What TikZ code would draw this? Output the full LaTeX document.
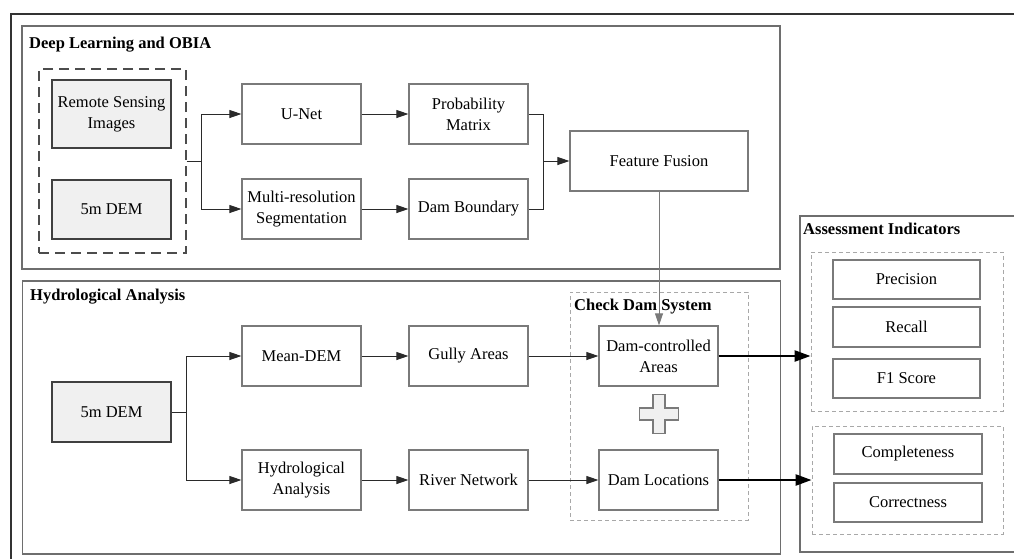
\documentclass[tikz,border=0pt]{standalone}
\usepackage{fontspec}
\setmainfont{Liberation Serif}
\newfontfamily\labelserif{Liberation Serif}
\usetikzlibrary{arrows.meta,calc}
\definecolor{boxline}{HTML}{7A7A7A}
\definecolor{frameline}{HTML}{6E6E6E}
\definecolor{inputfill}{HTML}{F0F0F0}
\definecolor{wire}{HTML}{2A2A2A}
\definecolor{lightdash}{HTML}{A8A8A8}
\tikzset{
  txt/.style={font=\labelserif\fontsize{16.5}{21}\selectfont},
  ttl/.style={font=\labelserif\bfseries\fontsize{16.5}{21}\selectfont, anchor=base west, inner sep=0pt},
  stagebox/.style={draw=boxline, line width=1.2pt, fill=white, align=center, inner sep=0pt, txt},
  inputbox/.style={stagebox, draw=black!75, line width=1.4pt, fill=inputfill},
  groupframe/.style={draw=frameline, line width=1.2pt, inner sep=0pt},
  softdash/.style={draw=lightdash, line width=0.9pt, dash pattern=on 4pt off 3pt, inner sep=0pt},
  flow/.style={draw=wire, line width=0.9pt, -{Triangle[length=12pt,width=8pt]}},
  joint/.style={draw=wire, line width=0.9pt},
  strong/.style={draw=black, line width=2.4pt, -{Triangle[length=16pt,width=11pt]}}
}
\begin{document}
\begin{tikzpicture}[x=1pt,y=-1pt]
\useasboundingbox (0,0) rectangle (1014,558);

% outer frame (open to the right and bottom)
\draw[draw=black!80, line width=1.6pt] (11,560) -- (11,14) -- (1016,14);

% group frames
\node[groupframe, minimum width=758pt, minimum height=243pt] (dlframe) at (401,147.5) {};
\node[groupframe, minimum width=758pt, minimum height=273pt] (haframe) at (401.5,417.5) {};
\draw[draw=frameline, line width=1.2pt] (1016,216) -- (800,216) -- (800,552) -- (1016,552);
\coordinate (aiframe) at (800,216);

\node[ttl] (dltitle) at (29,48) {Deep Learning and OBIA};
\node[ttl] (hatitle) at (30,300) {Hydrological Analysis};
\node[ttl] (aititle) at (803,234) {Assessment Indicators};

% --- Deep Learning and OBIA ---
\node[draw=black!70, line width=1.3pt, dash pattern=on 10pt off 6pt, minimum width=147pt, minimum height=184pt, inner sep=0pt] (inputs) at (112.5,161) {};
\node[inputbox, minimum width=119pt, minimum height=68pt] (rs) at (111.5,114) {Remote Sensing\\Images};
\node[inputbox, minimum width=119pt, minimum height=59pt] (dem1) at (111.5,209.5) {5m DEM};

\node[stagebox, minimum width=119pt, minimum height=60pt] (unet) at (301.5,114) {U-Net};
\node[stagebox, minimum width=119pt, minimum height=60pt] (mrs) at (301.5,209) {Multi-resolution\\Segmentation};
\node[stagebox, minimum width=119pt, minimum height=60pt] (prob) at (468.5,114) {Probability\\Matrix};
\node[stagebox, minimum width=119pt, minimum height=60pt] (dbnd) at (468.5,209) {Dam Boundary};
\node[stagebox, minimum width=178pt, minimum height=60pt] (ff) at (659,161) {Feature Fusion};

\draw[joint] (inputs.east) -- ++(15,0) coordinate (split1);
\draw[flow] (split1) |- (unet.west);
\draw[flow] (split1) |- (mrs.west);
\draw[flow] (unet.east) -- (prob.west);
\draw[flow] (mrs.east) -- (dbnd.west);
\draw[joint] (prob.east) -- ++(15,0) coordinate (merge1) -- (merge1 |- dbnd.east) -- (dbnd.east);
\draw[flow] (merge1 |- ff.west) -- (ff.west);

% --- Hydrological Analysis ---
\node[inputbox, minimum width=119pt, minimum height=60pt] (dem2) at (111.5,412) {5m DEM};
\node[stagebox, minimum width=119pt, minimum height=60pt] (mean) at (301.5,356) {Mean-DEM};
\node[stagebox, minimum width=119pt, minimum height=60pt] (hyd) at (301.5,480) {Hydrological\\Analysis};
\node[stagebox, minimum width=119pt, minimum height=60pt] (gully) at (468.5,356) {Gully Areas};
\node[stagebox, minimum width=119pt, minimum height=60pt] (river) at (468.5,480) {River Network};

% check dam system
\node[softdash, minimum width=178pt, minimum height=228pt] (cds) at (659,406) {};
\node[ttl] (cdstitle) at (574,310) {Check Dam System};
\node[stagebox, minimum width=119pt, minimum height=60pt] (dca) at (658.5,356) {Dam-controlled\\Areas};
\node[stagebox, minimum width=119pt, minimum height=60pt] (dloc) at (658.5,480) {Dam Locations};
\draw[draw=boxline, line width=1.1pt, fill=inputfill]
  (653,394.5) -- (665,394.5) -- (665,408) -- (678.5,408) -- (678.5,420) -- (665,420)
  -- (665,433.5) -- (653,433.5) -- (653,420) -- (639.5,420) -- (639.5,408) -- (653,408) -- cycle;
\coordinate (plus) at (659,414);

\draw[joint] (dem2.east) -- ++(15,0) coordinate (split2);
\draw[flow] (split2) |- (mean.west);
\draw[flow] (split2) |- (hyd.west);
\draw[flow] (mean.east) -- (gully.west);
\draw[flow] (hyd.east) -- (river.west);
\draw[flow] (gully.east) -- (dca.west);
\draw[flow] (river.east) -- (dloc.west);
\draw[flow, draw=boxline] (ff.south) -- (ff.south |- dca.north);

% --- Assessment Indicators ---
\node[softdash, minimum width=192pt, minimum height=159pt] (acc) at (907,331.5) {};
\node[softdash, minimum width=191pt, minimum height=108pt] (geo) at (907.5,480) {};
\node[stagebox, minimum width=147pt, minimum height=39pt] (prec) at (906.5,279.5) {Precision};
\node[stagebox, minimum width=147pt, minimum height=40pt] (rec) at (906.5,327) {Recall};
\node[stagebox, minimum width=147pt, minimum height=39pt] (f1) at (906.5,378.5) {F1 Score};
\node[stagebox, minimum width=148pt, minimum height=40pt] (comp) at (908,454) {Completeness};
\node[stagebox, minimum width=148pt, minimum height=39pt] (corr) at (908,502.5) {Correctness};

\draw[strong] (dca.east) -- (dca.east -| acc.west);
\draw[strong] (dloc.east) -- (dloc.east -| geo.west);
\end{tikzpicture}
\end{document}
